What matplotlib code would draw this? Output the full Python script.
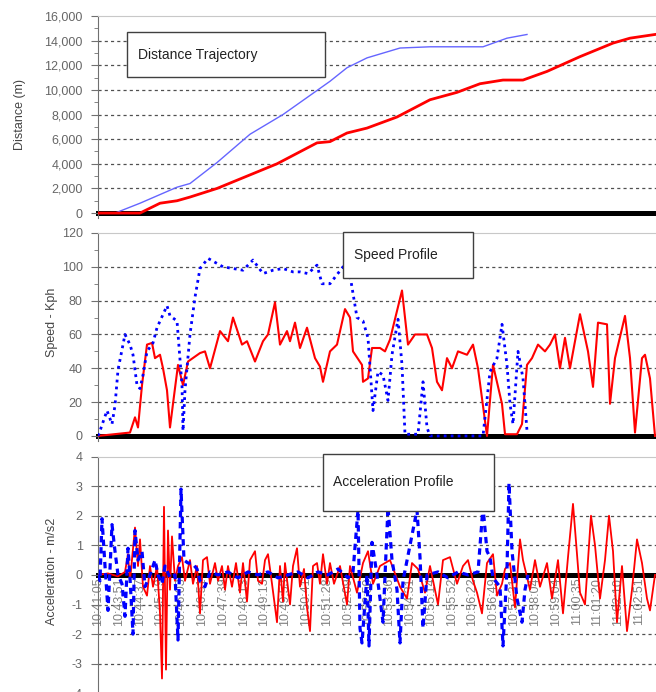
import numpy as np
import matplotlib.pyplot as plt
from matplotlib.patches import Rectangle
from matplotlib.ticker import FuncFormatter, MultipleLocator

plt.rcParams['font.family'] = ['Liberation Sans', 'DejaVu Sans']
plt.rcParams['axes.unicode_minus'] = False

# x axis is the sample index of the log (0..558)
time_labels = ["10:41:05", "10:43:51", "10:44:37", "10:45:19", "10:46:03", "10:46:51",
               "10:47:39", "10:48:13", "10:49:13", "10:49:53", "10:50:41", "10:51:28",
               "10:52:09", "10:52:50", "10:53:36", "10:54:31", "10:55:14", "10:55:52",
               "10:56:22", "10:56:49", "10:57:31", "10:58:04", "10:59:04", "11:00:35",
               "11:01:20", "11:02:10", "11:02:51"]

# distance trajectory (m)
blue_dist_t = [0, 17, 42, 79, 92, 119, 152, 185, 232, 249, 269, 302, 332, 385, 409, 429]
blue_dist_m = [0, 0, 800, 2100, 2400, 4100, 6400, 8000, 10700, 11800, 12600, 13400,
               13500, 13500, 14200, 14500]
red_dist_t = [0, 42, 62, 79, 92, 119, 155, 179, 219, 232, 249, 269, 299, 332, 359, 382,
              405, 425, 449, 482, 515, 532, 557]
red_dist_m = [0, 0, 800, 1000, 1300, 2000, 3200, 4000, 5700, 5800, 6500, 6900, 7800,
              9200, 9800, 10500, 10800, 10800, 11500, 12700, 13800, 14200, 14500]

# speed profile (kph)
blue_speed_t = [0, 2, 9, 14, 17, 20, 27, 32, 35, 39, 42, 45, 49, 55, 59, 69, 72, 79, 84,
                85, 87, 92, 97, 102, 110, 119, 125, 135, 145, 155, 165, 175, 185, 195,
                202, 210, 219, 224, 232, 245, 252, 259, 265, 270, 275, 280, 285, 290,
                294, 300, 304, 307, 320, 325, 329, 332, 385, 392, 399, 404, 409, 412,
                415, 420, 425, 429]
blue_speed_v = [0, 3, 15, 7, 18, 39, 60, 54, 48, 30, 28, 36, 50, 55, 64, 77, 71, 68, 30,
                3, 27, 60, 82, 99, 105, 102, 100, 99, 98, 104, 96, 98, 99, 97, 97, 96,
                101, 90, 90, 100, 95, 70, 68, 58, 15, 38, 36, 21, 48, 69, 42, 1, 1, 32,
                5, 0, 0, 38, 46, 66, 42, 19, 7, 50, 34, 3]
red_speed_t = [0, 32, 37, 40, 44, 49, 54, 57, 62, 65, 69, 72, 75, 80, 85, 90, 102, 107,
               112, 122, 130, 135, 144, 149, 157, 165, 170, 177, 182, 189, 192, 197, 202,
               209, 217, 222, 225, 232, 239, 247, 252, 255, 264, 265, 270, 274, 282, 287,
               292, 304, 310, 317, 329, 334, 339, 344, 349, 354, 360, 369, 375, 380, 389,
               395, 404, 407, 419, 424, 429, 434, 440, 447, 452, 457, 462, 467, 472, 482,
               490, 495, 500, 509, 512, 517, 527, 532, 537, 544, 547, 552, 557]
red_speed_v = [0, 2, 11, 5, 30, 54, 55, 46, 48, 40, 27, 5, 19, 42, 30, 44, 49, 50, 40, 62,
               56, 70, 54, 56, 44, 56, 60, 79, 54, 62, 56, 67, 52, 64, 46, 41, 32, 50, 54,
               75, 70, 50, 42, 32, 34, 52, 52, 50, 57, 86, 54, 60, 60, 52, 32, 27, 46, 40,
               50, 48, 54, 40, 0, 42, 19, 1, 1, 7, 42, 46, 54, 50, 54, 60, 40, 58, 40, 72,
               50, 29, 67, 66, 19, 46, 71, 46, 2, 46, 48, 34, 0]

# acceleration profile (m/s2)
red_acc_t = [0, 10, 20, 27, 30, 32, 37, 40, 42, 45, 49, 52, 55, 59, 62, 64, 66, 68, 70, 72,
             74, 77, 80, 84, 87, 92, 95, 99, 102, 105, 109, 112, 117, 120, 124, 127, 130,
             134, 138, 142, 145, 149, 152, 157, 160, 164, 167, 170, 174, 179, 182, 185,
             187, 192, 195, 199, 202, 206, 209, 212, 215, 219, 222, 225, 229, 232, 236,
             242, 249, 252, 259, 265, 270, 275, 282, 292, 302, 309, 314, 320, 327, 332,
             340, 345, 352, 359, 365, 370, 375, 379, 384, 389, 395, 399, 404, 407, 412,
             417, 422, 425, 432, 437, 442, 449, 454, 460, 465, 470, 475, 479, 482, 487,
             493, 497, 502, 507, 511, 515, 519, 524, 529, 534, 539, 544, 549, 552, 557]
red_acc_v = [0, 0.05, -0.05, 0.1, 0.7, -0.2, 1.6, 0.3, 1.2, -0.4, -0.7, 0.3, -0.4, 0.3,
             -1.3, -3.5, 2.3, -3.2, 1.5, -0.5, 1.3, -0.2, 0.3, 0.6, -0.2, 0.5, -0.3, 0.3,
             -1.3, 0.5, 0.6, -0.3, 0.4, -0.2, 0.3, -0.5, 0.3, -0.4, 0.4, -0.6, 0.4, -0.9,
             0.5, 0.8, -0.2, -0.3, 0.5, 0.7, -0.3, -1.6, 0.3, -0.9, 0.4, -1.0, 0.3, 0.9,
             -0.4, 0.2, -1.1, -1.9, 0.3, 0.4, -0.3, 0.7, -0.3, 0.4, -0.3, 0.3, -1.0, 0.3,
             -0.6, 0.4, 0.8, -0.3, 0.3, 0.5, -0.4, -0.8, 0.4, 0.2, -0.6, 0.3, -1.0, 0.5,
             0.6, -0.3, 0.3, 0.5, -0.2, -0.6, -1.3, 0.4, 0.7, -0.7, -0.3, 0.2, 0.4, -1.1,
             1.2, 0.5, -0.5, 0.5, -0.4, 0.4, -0.8, 0.5, -1.3, 0.6, 2.4, 0.7, -0.6, -1.0,
             2.0, 1.0, -0.8, 0.5, 2.0, 0.8, -1.6, 0.3, -1.9, -0.5, 1.2, 0.4, -0.8, -1.2,
             0.0]
blue_acc_t = [0, 2, 4, 7, 10, 12, 14, 17, 20, 24, 27, 30, 32, 35, 37, 40, 44, 47, 52, 57,
              60, 64, 67, 72, 77, 80, 83, 86, 90, 94, 99, 102, 107, 112, 120, 130, 140,
              150, 160, 170, 180, 190, 200, 210, 220, 230, 240, 250, 255, 260, 262, 264,
              269, 271, 274, 279, 285, 290, 294, 299, 302, 305, 319, 322, 325, 329, 340,
              350, 360, 370, 380, 385, 389, 392, 395, 402, 405, 409, 411, 414, 419, 424,
              427, 430]
blue_acc_v = [0, -0.2, 1.9, 0.3, -1.2, 0.2, 1.7, 0.8, 0.0, -0.3, -1.4, 0.9, -0.1, -2.0,
              1.5, 0.5, 0.8, -0.4, 0.0, 0.5, 0.0, -0.3, 0.3, -0.1, 0.0, -2.2, 2.9, 0.5,
              0.4, 0.4, 0.2, -0.2, -0.4, 0.1, 0.0, 0.1, -0.1, 0.1, 0.0, 0.1, -0.1, 0.0,
              0.1, -0.1, 0.1, 0.0, 0.2, -0.1, 0.1, 2.2, -1.8, -2.3, 0.0, -2.4, 1.1, 0.0,
              -1.6, 2.3, 0.5, -0.5, -2.3, -0.2, 2.2, 0.6, -1.8, 0.0, 0.1, -0.1, 0.1, 0.0,
              0.1, 2.3, 0.8, 0.6, -0.1, -0.4, -2.4, 0.2, 3.1, 0.8, -0.8, -1.6, -0.5, 0.0]

W, H = 656, 692
LEFT = 98
fig = plt.figure(figsize=(W / 100, H / 100), dpi=100)


def make_axes(top, bottom):
    return fig.add_axes([LEFT / W, 1 - bottom / H, 1 - LEFT / W, (bottom - top) / H])


def style(ax, grid_vals):
    ax.set_xlim(0, 558)
    ax.spines['right'].set_visible(False)
    ax.spines['top'].set_color('#c8c8c8')
    ax.spines['left'].set_color('#707070')
    ax.spines['bottom'].set_position(('data', 0))
    ax.spines['bottom'].set_color('black')
    ax.spines['bottom'].set_linewidth(3.6)
    ax.spines['bottom'].set_zorder(1.5)
    for g in grid_vals:
        ax.axhline(g, color='#505050', lw=0.9, ls=(0, (2.5, 2.5)), zorder=1)
    ax.tick_params(axis='y', which='major', labelsize=9, labelcolor='#666666',
                   color='#707070', length=5, pad=6)
    ax.tick_params(axis='y', which='minor', color='#707070', length=3)
    ax.tick_params(axis='x', length=0)


# distance
ax1 = make_axes(16, 218)
ax1.set_ylim(-400, 16000)
ax1.set_yticks(np.arange(0, 16001, 2000))
ax1.yaxis.set_minor_locator(MultipleLocator(1000))
ax1.yaxis.set_major_formatter(FuncFormatter(lambda v, p: f"{int(v):,}"))
ax1.set_xticks([])
style(ax1, range(2000, 16000, 2000))
ax1.plot(blue_dist_t, blue_dist_m, color='#6565ff', lw=1.0, zorder=3)
ax1.plot(red_dist_t, red_dist_m, color='#ff0000', lw=2.0, zorder=3)

# speed
ax2 = make_axes(233, 441)
ax2.set_ylim(-3, 120)
ax2.set_yticks(np.arange(0, 121, 20))
ax2.yaxis.set_minor_locator(MultipleLocator(10))
ax2.set_xticks([])
style(ax2, range(20, 120, 20))
ax2.plot(red_speed_t, red_speed_v, color='#ff0000', lw=1.5, zorder=3)
ax2.plot(blue_speed_t, blue_speed_v, color='#0000ff', lw=2.0, ls=(0, (1, 1.5)), zorder=4)

# acceleration
ax3 = make_axes(456.5, 693.3)
ax3.set_ylim(-4, 4)
ax3.set_yticks(np.arange(-4, 5, 1))
style(ax3, [-3, -2, -1, 1, 2, 3])
ax3.set_xticks(np.linspace(0, 541, len(time_labels)), time_labels, rotation=90,
               fontsize=9, color='#808080', va='top', ha='center')
ax3.tick_params(axis='x', pad=2)
ax3.plot(red_acc_t, red_acc_v, color='#ff0000', lw=1.3, zorder=3)
ax3.plot(blue_acc_t, blue_acc_v, color='#0000ff', lw=2.3, ls=(0, (2, 1.5)), zorder=4)

# y labels
fig.text(20 / W, 1 - 115 / H, "Distance (m)", rotation=90, ha='center', va='center',
         fontsize=9, color='#444444')
fig.text(52 / W, 1 - 322 / H, "Speed - Kph", rotation=90, ha='center', va='center',
         fontsize=9, color='#444444')
fig.text(52 / W, 1 - 571 / H, "Acceleration - m/s2", rotation=90, ha='center',
         va='center', fontsize=9, color='#444444')

# title boxes
boxes = [("Distance Trajectory", 127, 32, 325, 77, 138),
         ("Speed Profile", 343, 232, 473, 278, 354),
         ("Acceleration Profile", 323, 454, 494, 511, 333)]
for text, x0, y0, x1, y1, tx in boxes:
    fig.add_artist(Rectangle((x0 / W, 1 - y1 / H), (x1 - x0) / W, (y1 - y0) / H,
                             transform=fig.transFigure, fc='white', ec='#404040',
                             lw=1, zorder=10))
    fig.text(tx / W, 1 - ((y0 + y1) / 2) / H, text, ha='left', va='center',
             fontsize=10, color='#222222', zorder=11)

fig.savefig("out.png", dpi=100)
